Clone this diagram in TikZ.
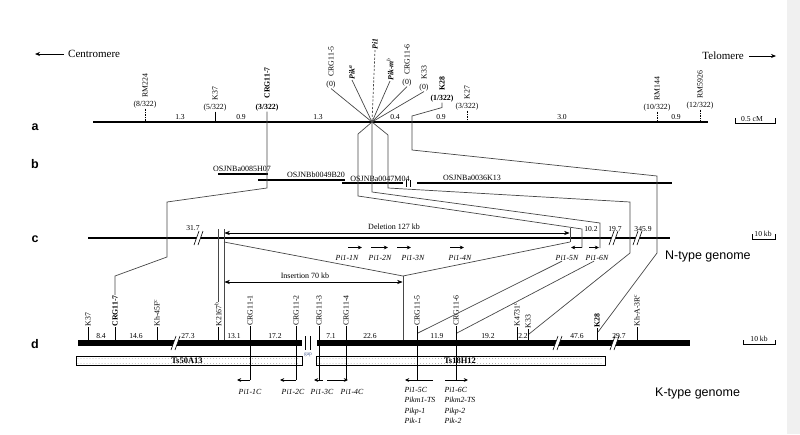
\documentclass[tikz,border=0pt]{standalone}
\usepackage{fontspec}
\setmainfont{Liberation Serif}
\setsansfont{Liberation Sans}
\usetikzlibrary{arrows.meta}
\definecolor{gapblue}{RGB}{80,100,150}
\begin{document}
\begin{tikzpicture}[x=1pt,y=-1pt,
  conn/.style={draw=black!72,line width=0.7pt},
  mk/.style={rotate=90,anchor=west,inner sep=0.3pt,font=\fontsize{7.8}{8}\selectfont},
  mkb/.style={mk,font=\fontsize{7.8}{8}\selectfont\bfseries},
  mkbi/.style={mk,font=\fontsize{7.8}{8}\selectfont\bfseries\itshape},
  cnt/.style={inner sep=0.3pt,font=\fontsize{7.8}{8}\selectfont},
  cntb/.style={cnt,font=\fontsize{7.8}{8}\selectfont\bfseries},
  num/.style={inner sep=0.4pt,anchor=south,font=\fontsize{7.6}{8}\selectfont},
  txt/.style={inner sep=0.3pt,font=\fontsize{8}{9}\selectfont},
  gene/.style={inner sep=0.3pt,font=\fontsize{7.8}{8}\selectfont\itshape},
  genestack/.style={inner sep=0.3pt,anchor=north west,align=left,font=\fontsize{7.8}{10.5}\selectfont\itshape},
  genearr/.style={line width=0.9pt,-{Stealth[length=4.2pt,width=3.8pt]}},
  dimarr/.style={line width=0.65pt,{Stealth[length=5.5pt,width=4.2pt]}-{Stealth[length=5.5pt,width=4.2pt]}},
  rowlab/.style={font=\sffamily\bfseries\fontsize{12.5}{13}\selectfont,inner sep=0},
  mtick/.style={line width=0.6pt},
  dtick/.style={line width=0.6pt,dash pattern=on 0.6pt off 1.1pt},
  bigsans/.style={font=\sffamily\fontsize{12.5}{14}\selectfont,inner sep=0,anchor=west},
  endarr/.style={line width=0.75pt,-{Stealth[length=5pt,width=4pt]}},
  bac/.style={line width=2.3pt},
]
\useasboundingbox (0,0) rectangle (800,434);
\fill[black!6] (787,0) rectangle (800,434);

% ---------- header ----------
\node[anchor=west,inner sep=0,font=\fontsize{11}{12}\selectfont] (centro) at (68,54) {Centromere};
\coordinate (centroTip) at (35,54);
\draw[endarr] ([xshift=-4pt]centro.west) -- (centroTip);
\node[anchor=east,inner sep=0,font=\fontsize{11}{12}\selectfont] (telo) at (744,56) {Telomere};
\coordinate (teloTip) at (776,56);
\draw[endarr] ([xshift=5pt]telo.east) -- (teloTip);

% ---------- row a ----------
\node[rowlab] (la) at (35,127) {a};
\coordinate (aL) at (93,122); \coordinate (aR) at (708,122);
\draw[line width=2.8pt] (aL) -- (aR);
\coordinate (ctr) at (372,122);

\node[mk] (mRM224) at (145,98) {RM224};
\node[cnt] (kRM224) at (145,104.5) {(8/322)};
\draw[dtick] (kRM224.south) -- (145,122);
\node[mk] (mK37) at (215,101) {K37};
\node[cnt] (kK37) at (215,107.5) {(5/322)};
\draw[mtick] (kK37.south) -- (215,122);
\node[mkb] (mCRG7) at (267,99) {CRG11-7};
\node[cntb] (kCRG7) at (267,107.5) {(3/322)};
\node[mk] (mCRG5) at (331,77) {CRG11-5};
\node[cnt] (kCRG5) at (331,84.5) {(0)};
\node[mkbi] (mPika) at (352,80) {Pik\textsuperscript{a}};
\node[mkbi] (mPi1) at (375,50) {Pi1};
\node[mkbi] (mPikm) at (390,81) {Pik-m\textsuperscript{\mdseries b}};
\node[mk] (mCRG6) at (407,75) {CRG11-6};
\node[cnt] (kCRG6) at (407,82.5) {(0)};
\node[mk] (mK33) at (424,80) {K33};
\node[cnt] (kK33) at (424,87.5) {(0)};
\node[mkb] (mK28) at (442,91) {K28};
\node[cntb] (kK28) at (442,98.5) {(1/322)};
\node[mk] (mK27) at (467,100) {K27};
\node[cnt] (kK27) at (467,106.5) {(3/322)};
\draw[dtick] (kK27.south) -- (467,122);
\node[mk] (mRM144) at (657,101) {RM144};
\node[cnt] (kRM144) at (657,107.5) {(10/322)};
\draw[dtick] (kRM144.south) -- (657,122);
\node[mk] (mRM5926) at (700,99) {RM5926};
\node[cnt] (kRM5926) at (700,105.5) {(12/322)};
\draw[dtick] (kRM5926.south) -- (700,122);

\foreach \x/\t [count=\i] in {180/1.3,241/0.9,318/1.3,395/0.4,441/0.9,562/3.0,676/0.9}
  \node[num] (na\i) at (\x,120.5) {\t};
\node[num] (sa) at (752,122) {0.5 cM};
\draw[mtick] (735,118) -- (735,123) -- (775,123) -- (775,118);

% ---------- row b ----------
\node[rowlab] (lb) at (35,164) {b};
\draw[bac] (218,174) -- (268,174);
\node[txt,anchor=south] (b1) at (242,172.5) {OSJNBa0085H07};
\draw[bac] (258,180) -- (345,180);
\node[txt,anchor=south] (b2) at (316,178.5) {OSJNBb0049B20};
\draw[bac] (342,183) -- (403,183);
\node[txt,anchor=south] (b3) at (380,182.5) {OSJNBa0047M04};
\draw[mtick] (406,180) -- (406,187) (410.5,180) -- (410.5,187);
\draw[bac] (417,183) -- (672,183);
\node[txt,anchor=south] (b4) at (472,181) {OSJNBa0036K13};

% ---------- row c ----------
\node[rowlab] (lc) at (35,239) {c};
\draw[line width=2.4pt] (88,238) -- (670,238);
\foreach \bx in {199,614,638}{
  \fill[white] (\bx-5,245) -- (\bx,231) -- (\bx+4,231) -- (\bx-1,245) -- cycle;
  \draw[line width=0.6pt] (\bx-5,245) -- (\bx,231) (\bx-1,245) -- (\bx+4,231);
}
\node[num] (n317) at (193,231.5) {31.7};
\node[num] (n102) at (591,232) {10.2};
\node[num] (n197) at (615,232) {19.7};
\node[num] (n3459) at (643,232) {345.9};

\draw[dimarr] (224.4,233) -- (569.6,233);
\node[txt,anchor=south] (del) at (394,230.5) {Deletion 127 kb};
\draw[dimarr] (224.4,282) -- (402.6,282);
\node[txt,anchor=south] (ins) at (305,279.5) {Insertion 70 kb};

\draw[genearr] (348,247.5) -- (362,247.5);
\draw[genearr] (371,247.5) -- (388,247.5);
\draw[genearr] (397,247.5) -- (411,247.5);
\draw[genearr] (450,247.5) -- (464,247.5);
\draw[genearr] (582,247.5) -- (571,247.5);
\draw[genearr] (589,247.5) -- (599,247.5);
\node[gene] (g1N) at (347,258) {Pi1-1N};
\node[gene] (g2N) at (380,258) {Pi1-2N};
\node[gene] (g3N) at (413,258) {Pi1-3N};
\node[gene] (g4N) at (460,258) {Pi1-4N};
\node[gene] (g5N) at (567,258) {Pi1-5N};
\node[gene] (g6N) at (597,258) {Pi1-6N};

\node[bigsans] (ntype) at (665,256) {N-type genome};
\node[num] (sc) at (763,237.5) {10 kb};
\draw[mtick] (752,234) -- (752,239) -- (775,239) -- (775,234);

% ---------- row d ----------
\node[rowlab] (ld) at (35,344) {d};
\draw[line width=6pt] (78,343) -- (302,343);
\draw[line width=6pt] (317,343) -- (690,343);
\foreach \bx in {176,558,615}{
  \fill[white] (\bx-5,350) -- (\bx,336) -- (\bx+4,336) -- (\bx-1,350) -- cycle;
  \draw[line width=0.6pt] (\bx-5,350) -- (\bx,336) (\bx-1,350) -- (\bx+4,336);
}
\draw[mtick] (305,336) -- (305,350) (310,336) -- (310,350);
\node[font=\fontsize{5.5}{6}\selectfont,text=gapblue,inner sep=0] (gap) at (308,355) {gap};

\draw[line width=0.5pt,fill=white] (76,356) rectangle (302,365.5);
\draw[line width=0.5pt,fill=white] (316,356) rectangle (605,365.5);
\draw[gray!75,line width=0.7pt,dash pattern=on 0.01pt off 3pt,line cap=round]
  (78,358.5) -- (300,358.5) (78,363) -- (300,363)
  (318,358.5) -- (603,358.5) (318,363) -- (603,363);
\node[inner sep=0,font=\fontsize{8.5}{9}\selectfont\bfseries] (ts50) at (187,361) {Ts50A13};
\node[inner sep=0,font=\fontsize{8.5}{9}\selectfont\bfseries] (ts18) at (460,361) {Ts18H12};

\node[mk] (dK37) at (88,327) {K37};
\node[mkb] (dCRG7) at (115,327) {CRG11-7};
\node[mk] (dKh45) at (157,327) {Kh-45F\textsuperscript{c}};
\node[mk] (dK2167) at (218,327) {K2167\textsuperscript{b}};
\node[mk] (dCRG1) at (250,326) {CRG11-1};
\node[mk] (dCRG2) at (296,326) {CRG11-2};
\node[mk] (dCRG3) at (319,326) {CRG11-3};
\node[mk] (dCRG4) at (346,326) {CRG11-4};
\node[mk] (dCRG5) at (417,326) {CRG11-5};
\node[mk] (dCRG6) at (456,326) {CRG11-6};
\node[mk] (dK4731) at (517,327) {K4731\textsuperscript{c}};
\node[mk] (dK33) at (528,329) {K33};
\node[mkb] (dK28) at (597,328) {K28};
\node[mk] (dKhA) at (637,327) {Kh-A-3R\textsuperscript{c}};

\foreach \n/\x in {dK37/88,dCRG7/115,dKh45/157,dK2167/218,dK4731/517,dK33/528,dK28/597,dKhA/637}
  \draw[mtick] (\n.west) -- (\x,340);
\foreach \n/\x in {dCRG1/250,dCRG2/296,dCRG3/319,dCRG4/346,dCRG5/417,dCRG6/456}
  \draw[mtick] (\n.west) -- (\x,380);

\foreach \x/\t [count=\i] in {101/8.4,136/14.6,188/27.3,234/13.1,275/17.2,331/7.1,370/22.6,437/11.9,488/19.2,523/2.2,577/47.6,619/29.7}
  \node[num] (nd\i) at (\x,339.5) {\t};

\draw[genearr] (250,380) -- (237,380);
\draw[genearr] (296,380) -- (280,380);
\draw[genearr] (323,380) -- (314,380);
\draw[genearr] (327,380) -- (348,380);
\draw[genearr] (433,380) -- (405,380);
\draw[genearr] (445,380) -- (468,380);
\node[gene] (g1C) at (250,391.5) {Pi1-1C};
\node[gene] (g2C) at (293,391.5) {Pi1-2C};
\node[gene] (g3C) at (322,391.5) {Pi1-3C};
\node[gene] (g4C) at (352,391.5) {Pi1-4C};
\node[genestack] (g5C) at (404,386.5) {Pi1-5C\\Pikm1-TS\\Pikp-1\\Pik-1};
\node[genestack] (g6C) at (444,386.5) {Pi1-6C\\Pikm2-TS\\Pikp-2\\Pik-2};

\node[bigsans] (ktype) at (655,393) {K-type genome};
\node[num] (sd) at (759,342) {10 kb};
\draw[mtick] (743,340) -- (743,344.5) -- (775,344.5) -- (775,340);

% ---------- connectors ----------
\draw[conn] (kCRG5.south) -- (ctr);
\draw[conn] (mPika.west) -- (ctr);
\draw[conn,dash pattern=on 2.2pt off 1.6pt] (mPi1.west) -- (ctr);
\draw[conn] (mPikm.west) -- (ctr);
\draw[conn] (kCRG6.south) -- (ctr);
\draw[conn] (kK33.south) -- (ctr);

\draw[conn] (kCRG7.south) -- (267,188) -- (167,202) -- (167,257) -- (115,276) -- (dCRG7.east);
\draw[conn] (kK28.south) -- ++(0,5) -- (412,116) -- (412,150) -- (657,176) -- (657,253) -- (598,332);
\draw[conn] (ctr) -- (358,134) -- (358,196) -- (582,229) -- (582,247.5);
\draw[conn] (ctr) -- (372,192) -- (600,223) -- (600,248);
\draw[conn] (ctr) -- (388,135) -- (388,188) -- (630,202) -- (630,253) -- (529,334);
\draw[conn] ([xshift=-5pt]g5N.south) -- (418,333);
\draw[conn] ([xshift=-3pt]g6N.south) -- (457,333);

\draw[conn] (218,229) -- (dK2167.east);
\draw[conn] (224,229) -- (224,340);
\draw[conn] (570,228) -- (570,242);
\coordinate (vtip) at (403,276);
\draw[conn] (224,242) -- (vtip) -- (570,242);
\draw[conn] (vtip) -- (403,340);
\end{tikzpicture}
\end{document}
